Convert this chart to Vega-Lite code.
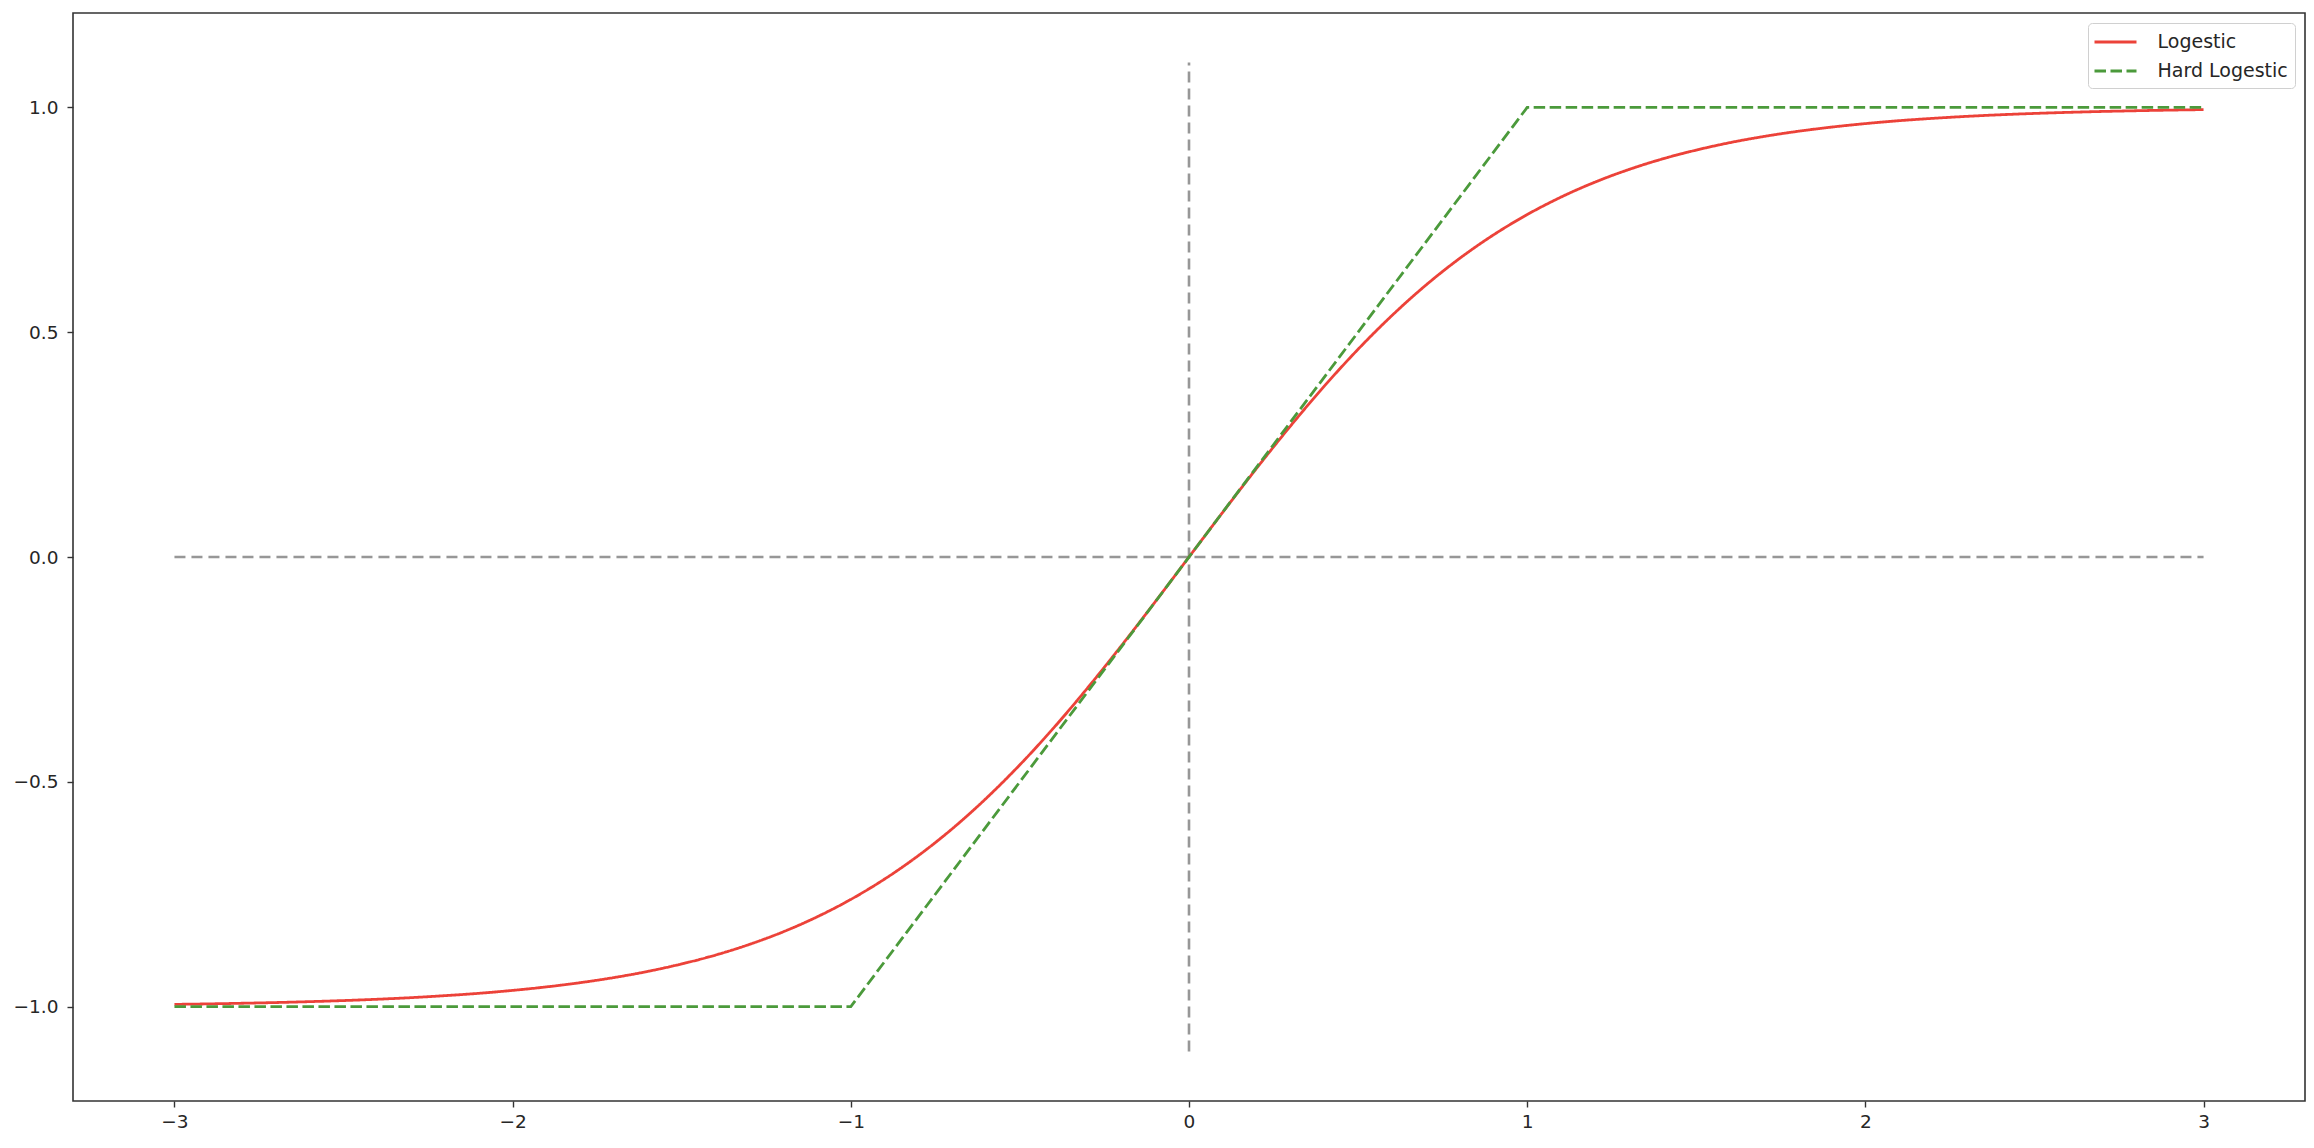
{
  "$schema": "https://vega.github.io/schema/vega-lite/v6.json",
  "width": 2232,
  "height": 1088,
  "autosize": "none",
  "padding": {"left": 73, "top": 13, "right": 9, "bottom": 47},
  "background": "white",
  "config": {
    "font": "DejaVu Sans",
    "view": {"stroke": "#333333", "strokeWidth": 1.6},
    "axis": {"grid": false, "domain": false, "tickColor": "#333333", "tickSize": 6, "tickWidth": 1.4, "labelFont": "DejaVu Sans", "labelFontSize": 18.5, "labelColor": "#262626", "title": null},
    "legend": {"orient": "top-right", "offset": 10, "padding": 7, "fillColor": "white", "strokeColor": "#d0d0d0", "cornerRadius": 4, "symbolType": "M-2,0H2", "symbolSize": 441, "symbolOffset": 8.5, "symbolStrokeWidth": 2.8, "labelFontSize": 19, "labelFont": "DejaVu Sans", "labelColor": "#262626", "rowPadding": 7, "labelOffset": 30, "symbolOpacity": 1}
  },
  "datasets": {
    "guides": [
      {"x": -3, "y": 0, "g": "h"}, {"x": 3, "y": 0, "g": "h"},
      {"x": 0, "y": -1.1, "g": "v"}, {"x": 0, "y": 1.1, "g": "v"}
    ],
    "tanh": [
      {"x": -3.0, "y": -0.9951, "s": "Logestic"}, {"x": -2.9, "y": -0.994, "s": "Logestic"}, {"x": -2.8, "y": -0.9926, "s": "Logestic"}, {"x": -2.7, "y": -0.991, "s": "Logestic"}, {"x": -2.6, "y": -0.989, "s": "Logestic"}, {"x": -2.5, "y": -0.9866, "s": "Logestic"}, {"x": -2.4, "y": -0.9837, "s": "Logestic"}, {"x": -2.3, "y": -0.9801, "s": "Logestic"}, {"x": -2.2, "y": -0.9757, "s": "Logestic"}, {"x": -2.1, "y": -0.9705, "s": "Logestic"}, {"x": -2.0, "y": -0.964, "s": "Logestic"}, {"x": -1.9, "y": -0.9562, "s": "Logestic"}, {"x": -1.8, "y": -0.9468, "s": "Logestic"}, {"x": -1.7, "y": -0.9354, "s": "Logestic"}, {"x": -1.6, "y": -0.9217, "s": "Logestic"}, {"x": -1.5, "y": -0.9051, "s": "Logestic"}, {"x": -1.4, "y": -0.8854, "s": "Logestic"}, {"x": -1.3, "y": -0.8617, "s": "Logestic"}, {"x": -1.2, "y": -0.8337, "s": "Logestic"}, {"x": -1.1, "y": -0.8005, "s": "Logestic"}, {"x": -1.0, "y": -0.7616, "s": "Logestic"}, {"x": -0.9, "y": -0.7163, "s": "Logestic"}, {"x": -0.8, "y": -0.664, "s": "Logestic"}, {"x": -0.7, "y": -0.6044, "s": "Logestic"}, {"x": -0.6, "y": -0.537, "s": "Logestic"}, {"x": -0.5, "y": -0.4621, "s": "Logestic"}, {"x": -0.4, "y": -0.38, "s": "Logestic"}, {"x": -0.3, "y": -0.2913, "s": "Logestic"}, {"x": -0.2, "y": -0.1974, "s": "Logestic"}, {"x": -0.1, "y": -0.0997, "s": "Logestic"}, {"x": 0.0, "y": 0.0, "s": "Logestic"}, {"x": 0.1, "y": 0.0997, "s": "Logestic"}, {"x": 0.2, "y": 0.1974, "s": "Logestic"}, {"x": 0.3, "y": 0.2913, "s": "Logestic"}, {"x": 0.4, "y": 0.38, "s": "Logestic"}, {"x": 0.5, "y": 0.4621, "s": "Logestic"}, {"x": 0.6, "y": 0.537, "s": "Logestic"}, {"x": 0.7, "y": 0.6044, "s": "Logestic"}, {"x": 0.8, "y": 0.664, "s": "Logestic"}, {"x": 0.9, "y": 0.7163, "s": "Logestic"}, {"x": 1.0, "y": 0.7616, "s": "Logestic"}, {"x": 1.1, "y": 0.8005, "s": "Logestic"}, {"x": 1.2, "y": 0.8337, "s": "Logestic"}, {"x": 1.3, "y": 0.8617, "s": "Logestic"}, {"x": 1.4, "y": 0.8854, "s": "Logestic"}, {"x": 1.5, "y": 0.9051, "s": "Logestic"}, {"x": 1.6, "y": 0.9217, "s": "Logestic"}, {"x": 1.7, "y": 0.9354, "s": "Logestic"}, {"x": 1.8, "y": 0.9468, "s": "Logestic"}, {"x": 1.9, "y": 0.9562, "s": "Logestic"}, {"x": 2.0, "y": 0.964, "s": "Logestic"}, {"x": 2.1, "y": 0.9705, "s": "Logestic"}, {"x": 2.2, "y": 0.9757, "s": "Logestic"}, {"x": 2.3, "y": 0.9801, "s": "Logestic"}, {"x": 2.4, "y": 0.9837, "s": "Logestic"}, {"x": 2.5, "y": 0.9866, "s": "Logestic"}, {"x": 2.6, "y": 0.989, "s": "Logestic"}, {"x": 2.7, "y": 0.991, "s": "Logestic"}, {"x": 2.8, "y": 0.9926, "s": "Logestic"}, {"x": 2.9, "y": 0.994, "s": "Logestic"}, {"x": 3.0, "y": 0.9951, "s": "Logestic"}
    ],
    "hard": [
      {"x": -3, "y": -1, "s": "Hard Logestic"}, {"x": -1, "y": -1, "s": "Hard Logestic"},
      {"x": 1, "y": 1, "s": "Hard Logestic"}, {"x": 3, "y": 1, "s": "Hard Logestic"}
    ]
  },
  "layer": [
    {
      "data": {"name": "guides"},
      "mark": {"type": "line", "color": "#8c8c8c", "opacity": 0.9, "strokeWidth": 2.6, "strokeDash": [11, 6]},
      "encoding": {
        "x": {"field": "x", "type": "quantitative", "scale": {"domain": [-3.3, 3.3], "nice": false, "zero": false}, "axis": {"values": [-3, -2, -1, 0, 1, 2, 3], "format": "d", "labelPadding": 5}},
        "y": {"field": "y", "type": "quantitative", "scale": {"domain": [-1.21, 1.21], "nice": false, "zero": false}, "axis": {"values": [-1, -0.5, 0, 0.5, 1], "format": ".1f", "labelPadding": 9}},
        "detail": {"field": "g"}
      }
    },
    {
      "data": {"name": "tanh"},
      "mark": {"type": "line", "strokeWidth": 2.8, "interpolate": "monotone"},
      "encoding": {
        "x": {"field": "x", "type": "quantitative"},
        "y": {"field": "y", "type": "quantitative"},
        "color": {"field": "s", "type": "nominal", "scale": {"domain": ["Logestic", "Hard Logestic"], "range": ["#ec4239", "#4b9a3b"]}, "legend": {"title": null}},
        "strokeDash": {"field": "s", "type": "nominal", "scale": {"domain": ["Logestic", "Hard Logestic"], "range": [[1, 0], [11.5, 4.5]]}, "legend": {"title": null}}
      }
    },
    {
      "data": {"name": "hard"},
      "mark": {"type": "line", "strokeWidth": 2.8},
      "encoding": {
        "x": {"field": "x", "type": "quantitative"},
        "y": {"field": "y", "type": "quantitative"},
        "color": {"field": "s", "type": "nominal"},
        "strokeDash": {"field": "s", "type": "nominal"}
      }
    }
  ],
  "resolve": {"scale": {"color": "shared", "strokeDash": "shared"}}
}
